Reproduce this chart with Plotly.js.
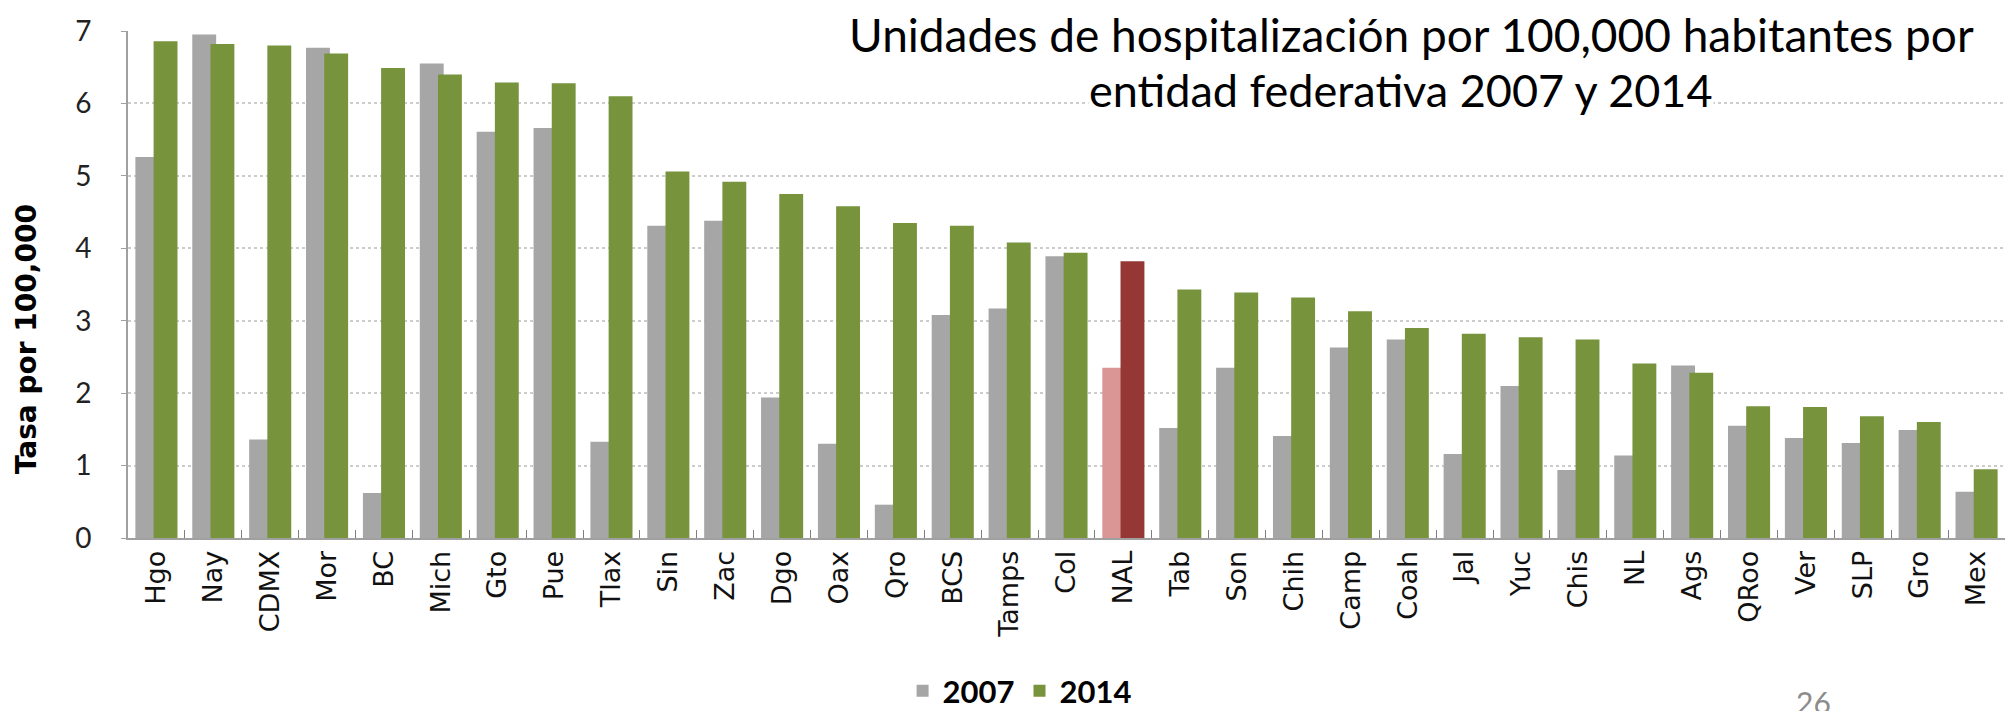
<!DOCTYPE html>
<html>
<head>
<meta charset="utf-8">
<script src="https://cdn.plot.ly/plotly-3.0.1.min.js"></script>
<style>html,body{margin:0;padding:0;background:#fff;}#chart{width:2005px;height:711px;}</style>
</head>
<body>
<div id="chart"></div>
<script>
const categories = ["Hgo","Nay","CDMX","Mor","BC","Mich","Gto","Pue","Tlax","Sin","Zac","Dgo","Oax","Qro","BCS","Tamps","Col","NAL","Tab","Son","Chih","Camp","Coah","Jal","Yuc","Chis","NL","Ags","QRoo","Ver","SLP","Gro","Mex"];
const values2007 = [5.26,6.95,1.36,6.77,0.62,6.55,5.61,5.66,1.33,4.31,4.38,1.94,1.30,0.46,3.08,3.17,3.89,2.35,1.52,2.35,1.41,2.63,2.74,1.16,2.10,0.94,1.14,2.38,1.55,1.38,1.31,1.49,0.64];
const values2014 = [6.86,6.82,6.80,6.69,6.49,6.40,6.29,6.28,6.10,5.06,4.92,4.75,4.58,4.35,4.31,4.08,3.94,3.82,3.43,3.39,3.32,3.13,2.90,2.82,2.77,2.74,2.41,2.28,1.82,1.81,1.68,1.60,0.95];
const seriesNames = ["2007","2014"];
const highlight = "NAL";
const yTicks = [0,1,2,3,4,5,6,7];

const GRAY = "#a6a6a6", GREEN = "#77933c", PINK = "#d99694", RED = "#953735";
const col2007 = categories.map(c => c === highlight ? PINK : GRAY);
const col2014 = categories.map(c => c === highlight ? RED : GREEN);

const traces = [
  {type:"bar", name:seriesNames[0], x:categories, y:values2007,
   marker:{color:col2007}, width:0.42, offset:-0.37, hoverinfo:"x+y"},
  {type:"bar", name:seriesNames[1], x:categories, y:values2014,
   marker:{color:col2014}, width:0.42, offset:-0.05, hoverinfo:"x+y"}
];

const layout = {
  width:2005, height:711,
  margin:{l:128, r:0, t:30.5, b:173, autoexpand:false},
  paper_bgcolor:"#fff", plot_bgcolor:"#fff",
  barmode:"overlay",
  showlegend:true,
  legend:{orientation:"h", x:0.475, xanchor:"center", y:-0.302, yanchor:"middle",
          font:{family:"Lato, 'Open Sans', sans-serif", size:31, color:"#000", weight:"bold"},
          itemwidth:30, tracegroupgap:0, traceorder:"normal"},
  xaxis:{type:"category", tickson:"boundaries", ticks:"inside", ticklen:8, tickcolor:"#808080",
         showline:true, linecolor:"#a0a0a0", linewidth:2, showgrid:false, automargin:false,
         tickangle:-90, tickfont:{family:"'DejaVu Sans', Verdana, sans-serif", size:27, color:"#111"},
         range:[-0.5, categories.length-0.5], fixedrange:true},
  yaxis:{range:[0,7], tickvals:yTicks, ticks:"outside", ticklen:5, tickcolor:"#a0a0a0",
         showline:true, linecolor:"#a0a0a0", linewidth:2, automargin:false,
         showgrid:true, gridcolor:"#cccccc", griddash:"dot", gridwidth:2,
         zeroline:false, ticklabelstandoff:24,
         tickfont:{family:"Lato, 'Open Sans', sans-serif", size:28, color:"#222"}},
  annotations:[
    {text:"Unidades de hospitalización por 100,000 habitantes por", xref:"paper", yref:"paper",
     x:(1411-128)/1877, y:(538-34)/507.5, xanchor:"center", yanchor:"middle", showarrow:false,
     bgcolor:"#fff", borderpad:0, font:{family:"Lato, 'Open Sans', sans-serif", size:46, color:"#000"}},
    {text:"entidad federativa 2007 y 2014", xref:"paper", yref:"paper",
     x:(1401-128)/1877, y:(538-90)/507.5, xanchor:"center", yanchor:"middle", showarrow:false,
     bgcolor:"#fff", borderpad:0, font:{family:"Lato, 'Open Sans', sans-serif", size:45, color:"#000"}},
    {text:"Tasa por 100,000", xref:"paper", yref:"paper", textangle:-90,
     x:(26-128)/1877, y:(538-339)/507.5, xanchor:"center", yanchor:"middle", showarrow:false,
     font:{family:"'DejaVu Sans', Verdana, sans-serif", size:28, color:"#000", weight:"bold"}},
    {text:"26", xref:"paper", yref:"paper",
     x:(1813-128)/1877, y:(538-682)/507.5, xanchor:"center", yanchor:"top", showarrow:false,
     font:{family:"Lato, 'Open Sans', sans-serif", size:30, color:"#8c8c8c"}}
  ]
};

Plotly.newPlot("chart", traces, layout, {displayModeBar:false, staticPlot:true});
</script>
</body>
</html>
